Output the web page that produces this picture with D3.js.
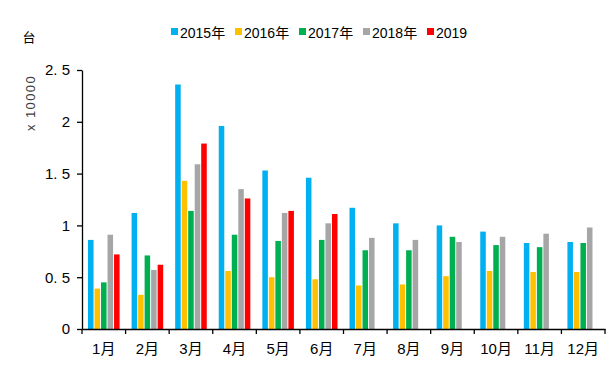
<!DOCTYPE html>
<html><head><meta charset="utf-8">
<script src="https://cdn.jsdelivr.net/npm/d3@7"></script>
<style>body{margin:0;background:#fff}text{font-family:"Liberation Sans","Noto Sans CJK SC",sans-serif}</style>
</head><body><svg id="c" width="615" height="380"></svg>
<script>
const months = ["1月","2月","3月","4月","5月","6月","7月","8月","9月","10月","11月","12月"];
const seriesNames = ["2015年","2016年","2017年","2018年","2019"];
const colors = ["#00B0F0","#FFC000","#00B050","#A6A6A6","#FF0000"];
const v2015 = [0.86,1.12,2.36,1.96,1.53,1.46,1.17,1.02,1.00,0.94,0.83,0.84];
const v2016 = [0.39,0.33,1.43,0.56,0.50,0.48,0.42,0.43,0.51,0.56,0.55,0.55];
const v2017 = [0.45,0.71,1.14,0.91,0.85,0.86,0.76,0.76,0.89,0.81,0.79,0.83];
const v2018 = [0.91,0.57,1.59,1.35,1.12,1.02,0.88,0.86,0.84,0.89,0.92,0.98];
const v2019 = [0.72,0.62,1.79,1.26,1.14,1.11,null,null,null,null,null,null];
const yTicks = [0,0.5,1,1.5,2,2.5];
const yTickLabels = ["0","0. 5","1","1. 5","2","2. 5"];
const allSeries = [v2015,v2016,v2017,v2018,v2019];

const svg = d3.select("#c");
const x0 = d3.scaleBand().domain(months).range([82,605]).padding(0);
const x1 = d3.scaleBand().domain(seriesNames).range([6, x0.bandwidth()-6]).paddingInner(0.15);
const y = d3.scaleLinear().domain([0,2.5]).range([329,70]);

const g = svg.append("g");
allSeries.forEach((vals,si)=>{
  g.selectAll(null).data(months.map((m,i)=>({m,v:vals[i]})).filter(d=>d.v!=null))
   .enter().append("rect")
   .attr("x",d=>x0(d.m)+x1(seriesNames[si]))
   .attr("width",x1.bandwidth())
   .attr("y",d=>y(d.v))
   .attr("height",d=>y(0)-y(d.v))
   .attr("fill",colors[si]);
});

// y axis
const ya = svg.append("g").attr("transform","translate(82,0)")
 .call(d3.axisLeft(y).tickValues(yTicks).tickFormat((d,i)=>yTickLabels[i]).tickSize(5).tickSizeOuter(0));
ya.select(".domain").attr("stroke","#000").attr("stroke-width",1.3);
ya.selectAll(".tick line").attr("stroke","#000").attr("stroke-width",1.3);
ya.selectAll(".tick text").attr("font-size",15).attr("fill","#000").attr("x",-12)
  .attr("font-family","'Liberation Sans',sans-serif");

// x axis
const xa = svg.append("g").attr("transform","translate(0,329)")
 .call(d3.axisBottom(x0).tickSize(0).tickSizeOuter(0));
xa.select(".domain").attr("stroke","#000").attr("stroke-width",1.5);
xa.selectAll(".tick text").attr("font-size",15).attr("fill","#000").attr("dy","1.45em");
const bounds = months.map(m=>x0(m)).concat([605]);
svg.append("g").selectAll("line").data(bounds).enter().append("line")
  .attr("x1",d=>d).attr("x2",d=>d).attr("y1",329).attr("y2",334)
  .attr("stroke","#000").attr("stroke-width",1.3);

// axis titles
svg.append("text").attr("x",29).attr("y",42).attr("text-anchor","middle").attr("font-size",13).text("台");
svg.append("text").attr("transform","translate(35,103) rotate(-90)").attr("text-anchor","middle")
  .attr("font-size",13).attr("letter-spacing",1.4).attr("fill","#404040").text("x 10000");

// legend
const legX = [171,235,299,363,427];
const leg = svg.append("g");
seriesNames.forEach((s,i)=>{
  leg.append("rect").attr("x",legX[i]).attr("y",28).attr("width",7).attr("height",7).attr("fill",colors[i]);
  leg.append("text").attr("x",legX[i]+9).attr("y",37.5).attr("font-size",14).attr("fill","#000").text(s);
});
</script></body></html>
